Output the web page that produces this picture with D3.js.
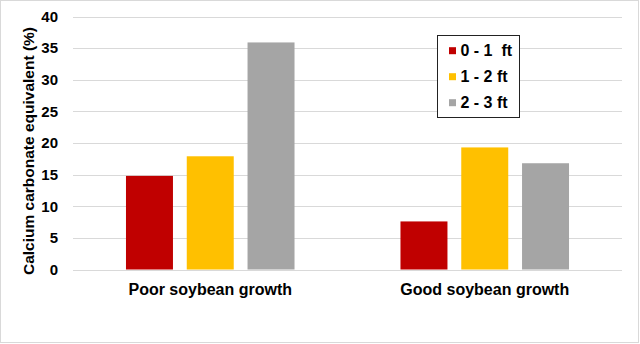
<!DOCTYPE html>
<html>
<head>
<meta charset="utf-8">
<script src="https://cdn.jsdelivr.net/npm/d3@7"></script>
<style>
  html, body { margin: 0; padding: 0; background: #fff; }
  svg { display: block; font-family: "Liberation Sans", Arial, sans-serif; }
</style>
</head>
<body>
<svg id="chart" width="640" height="344"></svg>
<script>
// Calcium carbonate equivalent by soil depth, for two growth conditions
const categories = ["Poor soybean growth", "Good soybean growth"];
const depths = ["0 - 1  ft", "1 - 2 ft", "2 - 3 ft"];
const depth0to1 = [14.8, 7.6];
const depth1to2 = [17.9, 19.3];
const depth2to3 = [35.9, 16.8];
const yTicks = [0, 5, 10, 15, 20, 25, 30, 35, 40];
const colors = ["#c00000", "#ffc000", "#a5a5a5"];

const seriesValues = [depth0to1, depth1to2, depth2to3];
const rows = categories.map((c, i) => ({
  category: c,
  values: depths.map((d, j) => ({ depth: d, value: seriesValues[j][i] }))
}));

const svg = d3.select("#chart");

// Outer frame
svg.append("rect")
  .attr("x", 0.5).attr("y", 0.5)
  .attr("width", 638).attr("height", 342)
  .attr("fill", "#fff")
  .attr("stroke", "#d9d9d9");

const plot = { left: 73, right: 622, top: 16.5, bottom: 269.5 };

const x = d3.scaleBand().domain(categories).range([plot.left, plot.right]);
const y = d3.scaleLinear().domain([0, 40]).range([plot.bottom, plot.top]);

const groupWidth = x.bandwidth() * 0.614;
const xInner = d3.scaleBand()
  .domain(depths)
  .range([-groupWidth / 2, groupWidth / 2])
  .paddingInner(0.227);
const color = d3.scaleOrdinal().domain(depths).range(colors);

// Horizontal gridlines
svg.append("g")
  .selectAll("line")
  .data(yTicks)
  .join("line")
  .attr("x1", plot.left).attr("x2", plot.right)
  .attr("y1", d => Math.round(y(d)) + 0.5)
  .attr("y2", d => Math.round(y(d)) + 0.5)
  .attr("stroke", "#d9d9d9")
  .attr("stroke-width", 1);

// Y axis tick labels
const yAxis = d3.axisLeft(y).tickValues(yTicks).tickSize(0).tickPadding(0);
const yg = svg.append("g")
  .attr("transform", `translate(${plot.left - 15},0)`)
  .call(yAxis);
yg.select(".domain").remove();
yg.selectAll("text")
  .attr("font-size", "15px")
  .attr("font-weight", "bold")
  .attr("fill", "#000")
  .attr("font-family", "Liberation Sans, Arial, sans-serif");

// Bars
const groups = svg.append("g")
  .selectAll("g")
  .data(rows)
  .join("g")
  .attr("transform", d => `translate(${x(d.category) + x.bandwidth() / 2},0)`);

groups.selectAll("rect")
  .data(d => d.values)
  .join("rect")
  .attr("x", d => xInner(d.depth))
  .attr("width", xInner.bandwidth())
  .attr("y", d => y(d.value))
  .attr("height", d => y(0) - y(d.value))
  .attr("fill", d => color(d.depth));

// Category axis labels
const xAxis = d3.axisBottom(x).tickSize(0).tickPadding(0);
const xg = svg.append("g")
  .attr("transform", `translate(0,${plot.bottom + 14.5})`)
  .call(xAxis);
xg.select(".domain").remove();
xg.selectAll("text")
  .attr("font-size", "16px")
  .attr("font-weight", "bold")
  .attr("fill", "#000")
  .attr("font-family", "Liberation Sans, Arial, sans-serif");

// Y axis title
svg.append("text")
  .attr("transform", "translate(34,151) rotate(-90)")
  .attr("text-anchor", "middle")
  .attr("font-size", "15.5px")
  .attr("font-weight", "bold")
  .attr("fill", "#000")
  .text("Calcium carbonate equivalent (%)");

// Legend
const legend = svg.append("g").attr("transform", "translate(437,35)");
legend.append("rect")
  .attr("x", 0.5).attr("y", 0.5)
  .attr("width", 82).attr("height", 82)
  .attr("fill", "#fff")
  .attr("stroke", "#222")
  .attr("stroke-width", 1);

const items = legend.selectAll("g.item")
  .data(depths)
  .join("g")
  .attr("class", "item")
  .attr("transform", (d, i) => `translate(0,${15.7 + i * 26})`);

items.append("rect")
  .attr("x", 12).attr("y", -3.5)
  .attr("width", 7).attr("height", 7)
  .attr("fill", d => color(d));

items.append("text")
  .attr("x", 23.5)
  .attr("dy", "0.36em")
  .attr("font-size", "16px")
  .attr("font-weight", "bold")
  .attr("fill", "#000")
  .attr("xml:space", "preserve")
  .style("white-space", "pre")
  .text(d => d);
</script>
</body>
</html>
